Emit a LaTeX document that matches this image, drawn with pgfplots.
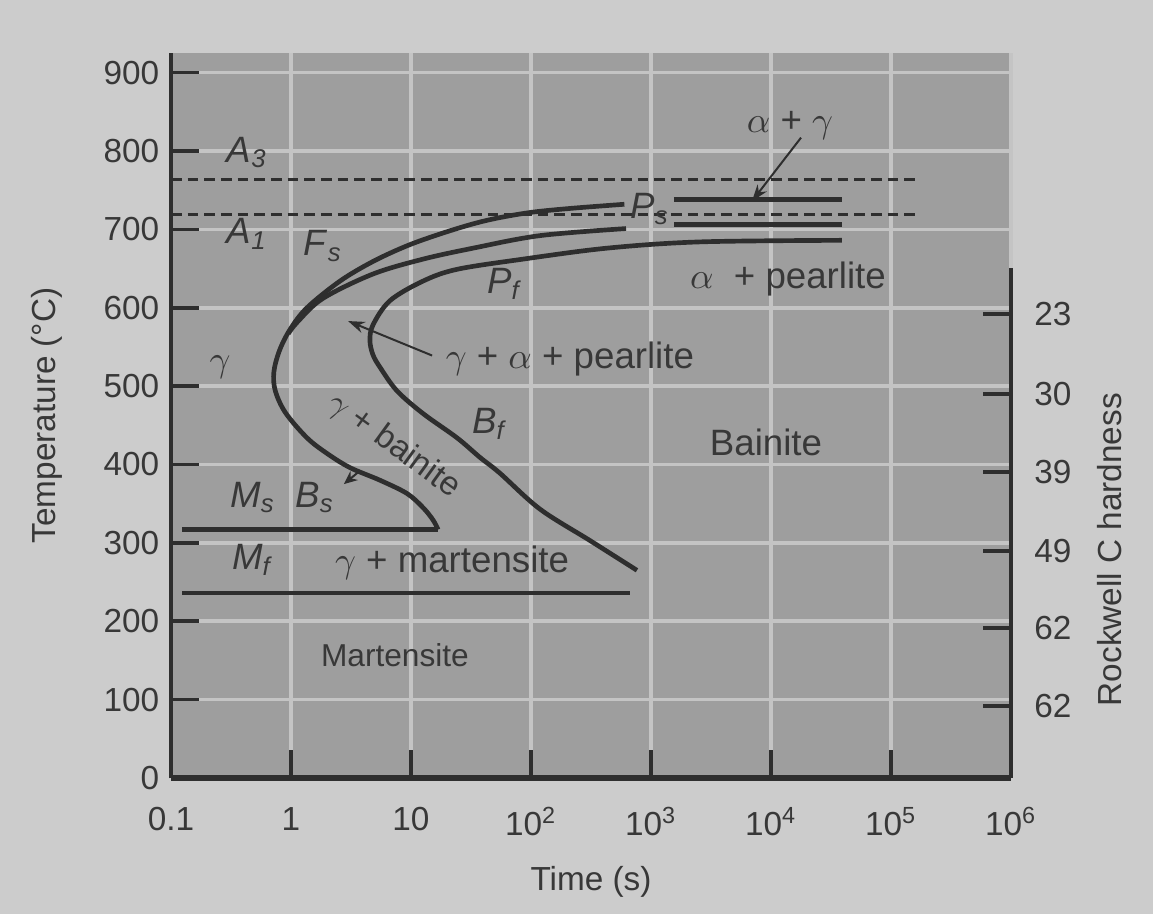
\documentclass[border=0pt]{standalone}
\usepackage{fontspec}
\setmainfont{Liberation Sans}
\usepackage{pgfplots}
\pgfplotsset{compat=1.18}
\usetikzlibrary{arrows.meta}
\definecolor{bgout}{gray}{0.80}
\definecolor{plotbg}{gray}{0.62}
\definecolor{gridc}{gray}{0.77}
\definecolor{ink}{gray}{0.18}
\definecolor{txt}{gray}{0.22}
\newcommand{\lab}[2]{\textit{#1}\textsubscript{\textit{#2}}}
\begin{document}
\begin{tikzpicture}[font=\fontsize{11}{13}\selectfont]
\fill[bgout] (-51.3pt,-40.8pt) rectangle (294.6pt,233.4pt);
\begin{axis}[
  at={(0,0)}, anchor=south west,
  width=252pt, height=217.5pt, scale only axis,
  xmode=log, log basis x=10,
  xmin=0.1, xmax=1e6, ymin=0, ymax=925,
  clip=false,
  xtick={0.1,1,10,100,1000,10000,100000,1000000},
  xticklabels={0.1,1,10,10\textsuperscript{2},10\textsuperscript{3},10\textsuperscript{4},10\textsuperscript{5},10\textsuperscript{6}},
  minor xtick={}, minor ytick={},
  ytick={0,100,200,300,400,500,600,700,800,900},
  /pgf/number format/assume math mode=true,
  axis background/.style={fill=plotbg},
  grid=major, major grid style={gridc, line width=1.1pt},
  axis x line*=bottom, axis y line*=left,
  x axis line style={line width=1.8pt, ink},
  y axis line style={line width=1.2pt, ink},
  tick align=inside, major tick length=8.4pt,
  tick style={line width=1.1pt, ink},
  ticklabel style={font=\fontsize{10}{12}\selectfont, text=txt},
  xticklabel style={yshift=-5.3pt},
  xlabel={Time (s)}, ylabel={Temperature (°C)},
  xlabel style={at={(axis description cs:0.5,0)}, anchor=north, yshift=-23pt, font=\fontsize{10}{12}\selectfont, text=txt},
  ylabel style={at={(axis description cs:-0.148,0.5)}, anchor=center, font=\fontsize{10}{12}\selectfont, text=txt},
]
% A3 and A1 (dashed)
\addplot[ink, line width=0.9pt, dash pattern=on 3.2pt off 1.8pt] coordinates {(0.1,763) (1.74e5,763)};
\addplot[ink, line width=0.9pt, dash pattern=on 3.2pt off 1.8pt] coordinates {(0.1,719) (1.74e5,719)};
% Ms and Mf
\addplot[ink, line width=1.4pt] coordinates {(0.124,317) (16.8,317)};
\addplot[ink, line width=1.4pt] coordinates {(0.124,236) (668,236)};
% Fs / Bs outer curve
\addplot[ink, line width=1.4pt, smooth, tension=0.55] coordinates {
 (600,732) (224,727) (104,722) (55,715) (32.9,707) (17.4,694) (9.26,679) (4.82,659) (2.56,634) (1.36,600)
 (0.98,572) (0.80,545) (0.72,518) (0.74,494) (0.90,466) (1.36,434) (2.0,414) (3.1,396)
 (5.5,380) (9.26,363) (12.6,345) (15.3,329) (16.8,317)};
\addplot[ink, line width=1.4pt] coordinates {(1555,738) (39000,738)};
% Ps curve
\addplot[ink, line width=1.4pt, smooth, tension=0.55] coordinates {
 (620,701) (119,692) (32.9,676) (12.6,662) (4.82,643) (1.85,612) (1.15,583) (0.95,567)};
\addplot[ink, line width=1.4pt] coordinates {(1555,706) (39000,706)};
% Pf / Bf curve
\addplot[ink, line width=1.4pt, smooth, tension=0.55] coordinates {
 (39000,686) (2560,684) (430,676) (85.8,662) (24.2,649) (12.6,634) (6.68,609) (4.82,578)
 (4.55,558) (4.82,540) (5.52,524) (7.64,494) (12.6,465) (24.2,434) (37.6,409) (55,389)
 (119,343) (310,303) (764,265)};
% labels
\node[txt] at (axis cs:0.43,798) {\lab{A}{3}};
\node[txt] at (axis cs:0.43,694) {\lab{A}{1}};
\node[txt] at (axis cs:1.85,679) {\lab{F}{s}};
\node[txt] at (axis cs:981,726) {\lab{P}{s}};
\node[txt] at (axis cs:60.7,631) {\lab{P}{f}};
\node[txt] at (axis cs:14400,832) {$\alpha$ + $\gamma$};
\node[txt] at (axis cs:13860,637) {$\alpha$\ \ +\ pearlite};
\node[txt] at (axis cs:211,535) {$\gamma$ + $\alpha$ + pearlite};
\node[txt] at (axis cs:0.256,524) {$\gamma$};
\node[txt, rotate=-36, font=\fontsize{10}{12}\selectfont, inner sep=0pt] at (axis cs:7.2,424) {$\gamma$ + bainite};
\node[txt] at (axis cs:45.5,452) {\lab{B}{f}};
\node[txt] at (axis cs:9090,428) {Bainite};
\node[txt] at (axis cs:0.482,358) {\lab{M}{s}};
\node[txt] at (axis cs:1.58,358) {\lab{B}{s}};
\node[txt] at (axis cs:0.482,278) {\lab{M}{f}};
\node[txt] at (axis cs:22,275) {$\gamma$ + martensite};
\node[txt, font=\fontsize{9.5}{11}\selectfont] at (axis cs:7.35,157) {Martensite};
% arrows
\draw[ink, line width=0.6pt, -{Stealth[length=5pt,width=3.5pt]}] (axis cs:17800,817) -- (axis cs:6950,736);
\draw[ink, line width=0.6pt, -{Stealth[length=5pt,width=3.5pt]}] (axis cs:15.0,539) -- (axis cs:2.99,583);
\draw[ink, line width=0.6pt, -{Stealth[length=4pt,width=3.5pt]}] (axis cs:3.62,390) -- (axis cs:2.76,375);
\end{axis}
\begin{axis}[
  at={(0,0)}, anchor=south west,
  width=252pt, height=217.5pt, scale only axis,
  xmode=log, xmin=0.1, xmax=1e6, ymin=0, ymax=925,
  clip=false,
  axis x line=none, axis y line*=right,
  y axis line style={draw=none},
  ytick={592,490,390,290,191,92},
  yticklabels={23,30,39,49,62,62},
  minor ytick={},
  tick align=inside, major tick length=8.4pt,
  tick style={line width=1.1pt, ink},
  yticklabel style={xshift=3.5pt, font=\fontsize{10}{12}\selectfont, text=txt},
]
\addplot[ink, line width=1.2pt] coordinates {(1e6,0) (1e6,651)};
\node[txt, rotate=90, font=\fontsize{10}{12}\selectfont] at ([xshift=29.7pt]axis description cs:1,0.315) {Rockwell C hardness};
\end{axis}
\end{tikzpicture}
\end{document}
